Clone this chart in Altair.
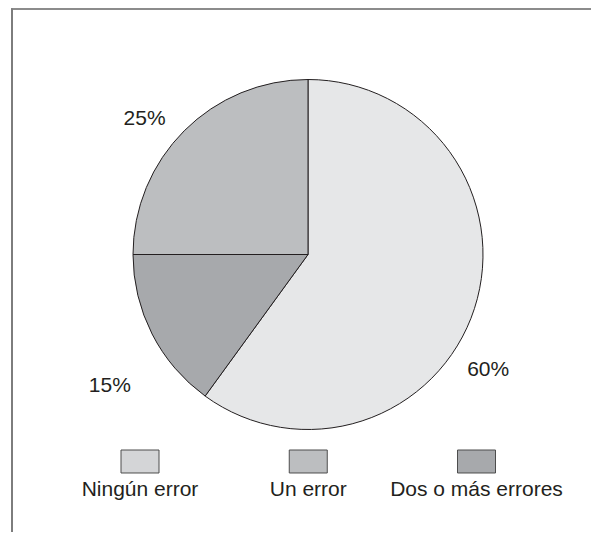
import altair as alt
import pandas as pd

# ---- data ----
categories = ["Ningún error", "Un error", "Dos o más errores"]
percentages = [60, 25, 15]
labels = ["60%", "25%", "15%"]
pie_order = [0, 2, 1]          # clockwise from 12 o'clock
pie_colors = ["#e6e7e8", "#bcbec0", "#a7a9ac"]
legend_colors = ["#d4d5d7", "#bcbec0", "#a7a9ac"]

df = pd.DataFrame({"cat": categories, "pct": percentages, "label": labels, "ord": pie_order})
frame_df = pd.DataFrame({"k": [0]})

FONT = "Liberation Sans"
TXT = "#231f20"
FS = 21
CX, CY = 300, 246.5

base = alt.Chart(df)

theta = alt.Theta("pct:Q", stack=True)
order = alt.Order("ord:Q")

pie = base.mark_arc(radius=175, stroke="#231f20", strokeWidth=1).encode(
    theta=theta,
    order=order,
    color=alt.Color("cat:N", scale=alt.Scale(domain=categories, range=pie_colors), legend=None),
    x=alt.value(CX),
    y=alt.value(CY),
)


def label_layer(idx, dx, dy):
    return base.mark_text(
        radius=200, dx=dx, dy=dy, fontSize=FS, font=FONT, color=TXT,
        align="center", baseline="middle",
    ).encode(
        theta=theta,
        order=order,
        text=alt.condition(alt.datum.ord == idx, alt.Text("label:N"), alt.value("")),
        x=alt.value(CX),
        y=alt.value(CY),
    )


lab60 = label_layer(0, -10, 54)
lab15 = label_layer(1, -20, 41)
lab25 = label_layer(2, -22, 6)

xleg = alt.X("cat:N", scale=alt.Scale(type="point", domain=categories, range=[132, 468.5], padding=0), axis=None)

rect_path = "M-1,-0.605L1,-0.605L1,0.605L-1,0.605Z"
leg_sym = base.mark_point(
    shape=rect_path, size=1444, filled=True, fillOpacity=1, opacity=1,
    stroke="#4d4d4d", strokeWidth=1,
).encode(
    x=xleg,
    y=alt.value(453.5),
    fill=alt.Fill("cat:N", scale=alt.Scale(domain=categories, range=legend_colors), legend=None),
)

leg_txt = base.mark_text(
    fontSize=FS, font=FONT, color=TXT, align="center", baseline="alphabetic"
).encode(
    x=xleg,
    y=alt.value(488),
    text="cat:N",
)

top_rule = alt.Chart(frame_df).mark_rule(color="#666666", strokeWidth=1.5).encode(
    x=alt.value(3), x2=alt.value(583), y=alt.value(1)
)
left_rule = alt.Chart(frame_df).mark_rule(color="#7d7d7d", strokeWidth=2).encode(
    x=alt.value(4), y=alt.value(0.5), y2=alt.value(524)
)

chart = alt.layer(
    pie, lab60, lab15, lab25, leg_sym, leg_txt, top_rule, left_rule
).resolve_scale(color="independent", fill="independent").properties(
    width=583, height=524, autosize=alt.AutoSizeParams(type="none"), padding=0,
    background="white",
).configure_view(stroke=None)

chart.save("out.html", embed_options={"renderer": "svg", "actions": False})
